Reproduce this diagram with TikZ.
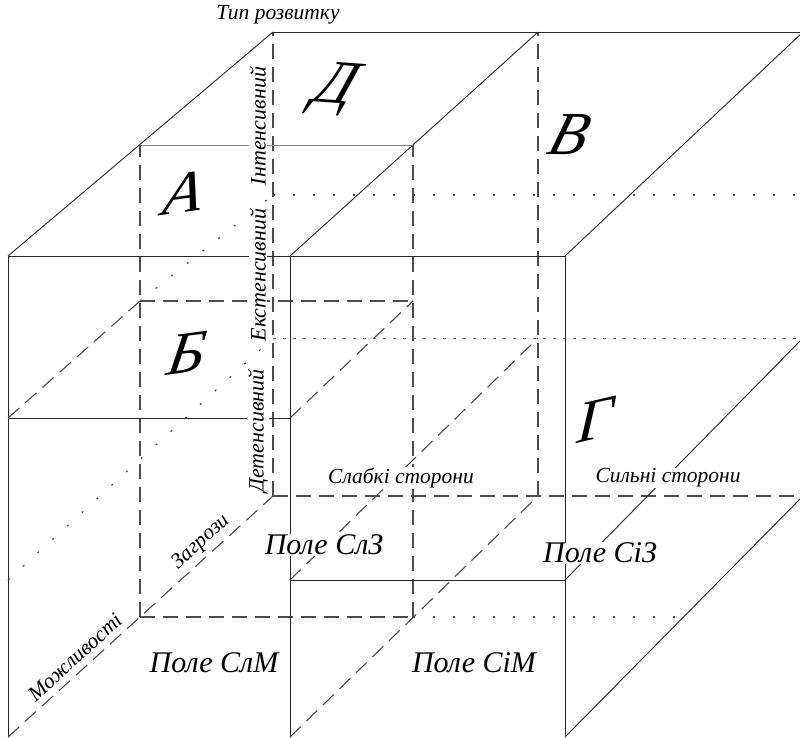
\documentclass[tikz,border=0pt]{standalone}
\usepackage{fontspec}
\setmainfont{Liberation Serif}
\begin{document}
\begin{tikzpicture}[x=1pt,y=1pt,
  edge/.style={draw=black!85, line width=0.9pt},
  thinedge/.style={draw=black!50, line width=0.7pt},
  hidden/.style={draw=black!70, line width=1.1pt, dash pattern=on 15pt off 8pt},
  sparsedots/.style={draw=black!70, line width=1.2pt, dash pattern=on 2pt off 18pt},
  densedots/.style={draw=black!60, line width=0.9pt, dash pattern=on 3pt off 7pt},
  axislabel/.style={font=\itshape\fontsize{21.5}{23}\selectfont, inner sep=1pt, fill=white},
  levellabel/.style={font=\itshape\fontsize{22}{24}\selectfont, inner sep=1pt, fill=white, rotate=90},
  depthlabel/.style={font=\itshape\fontsize{21.5}{23}\selectfont, inner sep=1pt, rotate=42.3},
  smalllabel/.style={font=\itshape\fontsize{21.5}{23}\selectfont, inner sep=1pt},
  fieldlabel/.style={font=\itshape\fontsize{30}{32}\selectfont, inner sep=1pt},
  bigletter/.style={font=\itshape\fontsize{61}{63}\selectfont, inner sep=0pt, xslant=0.3, transform shape},
]
\clip (0,0) rectangle (800,-737);

% grid points c<i><j><k>: i = column (left..right), j = level (bottom..top), k = depth (front..back)
\foreach \k/\xa/\xb/\xc/\ya/\yb/\yc/\yd in
  {0/8/290/565/737/580/418/256, 1/140/413/684/617/459/301/145, 2/273/538/803/496/338/195/32}{
  \coordinate (c00\k) at (\xa,-\ya); \coordinate (c01\k) at (\xa,-\yb);
  \coordinate (c02\k) at (\xa,-\yc); \coordinate (c03\k) at (\xa,-\yd);
  \coordinate (c10\k) at (\xb,-\ya); \coordinate (c11\k) at (\xb,-\yb);
  \coordinate (c12\k) at (\xb,-\yc); \coordinate (c13\k) at (\xb,-\yd);
  \coordinate (c20\k) at (\xc,-\ya); \coordinate (c21\k) at (\xc,-\yb);
  \coordinate (c22\k) at (\xc,-\yc); \coordinate (c23\k) at (\xc,-\yd);
}

% hidden (dashed) edges
\draw[hidden] (c002) -- (c032);
\draw[hidden] (c102) -- (c132);
\draw[hidden] (c002) -- (c202);
\draw[hidden] (c001) -- (c031);
\draw[hidden] (c101) -- (c131);
\draw[hidden] (c001) -- (c101);
\draw[hidden] (c021) -- (c121);
\draw[hidden] (c020) -- (c021);
\draw[hidden] (c120) -- (c121);
\draw[hidden] (c000) -- (c002);
\draw[hidden] (c100) -- (c102);
\draw[hidden] (c110) -- (c112);

% dotted level lines
\draw[sparsedots] (c022) -- (c222);
\draw[sparsedots] (c021) -- (c022);
\draw[sparsedots] (c010) -- (c012);
\draw[sparsedots] (c101) -- (c201);
\draw[densedots] (c012) -- (c212);

% visible edges
\draw[edge] (c030) -- (c230);
\draw[edge] (c000) -- (c030);
\draw[edge] (c100) -- (c130);
\draw[edge] (c200) -- (c230);
\draw[edge] (c020) -- (c120);
\draw[edge] (c110) -- (c210);
\draw[edge] (c030) -- (c032);
\draw[edge] (c130) -- (c132);
\draw[edge] (c230) -- (c232);
\draw[edge] (c032) -- (c232);
\draw[thinedge] (c031) -- (c131);
\draw[edge] (c200) -- (c202);
\draw[edge] (c210) -- (c212);

% axis titles
\node[smalllabel] (tip) at (278,-15) {Тип розвитку};
\node[levellabel] (intens) at (258,-126) {Інтенсивний};
\node[levellabel] (ekstens) at (258,-275) {Екстенсивний};
\node[levellabel] (detens) at (258,-431) {Детенсивний};
\node[axislabel] (weak) at (401,-478) {Слабкі сторони};
\node[axislabel] (strong) at (668,-478) {Сильні сторони};
\node[depthlabel] (threats) at (201,-542) {Загрози};
\node[depthlabel] (opps) at (75,-657) {Можливості};

% field names
\node[fieldlabel, fill=white] (slz) at (324,-545) {Поле СлЗ};
\node[fieldlabel, fill=white] (siz) at (600,-553) {Поле СіЗ};
\node[fieldlabel] (slm) at (214,-663) {Поле СлМ};
\node[fieldlabel] (sim) at (474,-663) {Поле СіМ};

% development types
\node[bigletter, rotate=8] (la) at (184,-193) {А};
\node[bigletter, rotate=8] (lb) at (187,-353) {Б};
\node[bigletter] (lv) at (570,-135) {В};
\node[bigletter, rotate=14] (lg) at (596,-420) {Г};
\node[bigletter, rotate=-4] (ld) at (336,-89) {Д};
\end{tikzpicture}
\end{document}
